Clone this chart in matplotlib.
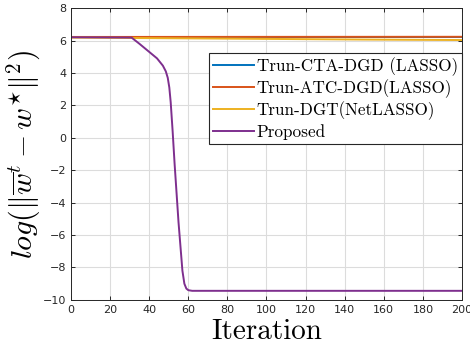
import numpy as np
import matplotlib.pyplot as plt

plt.rcParams['mathtext.fontset'] = 'cm'

# data
labels = ['Trun-CTA-DGD (LASSO)', 'Trun-ATC-DGD(LASSO)', 'Trun-DGT(NetLASSO)', 'Proposed']
colors = ['#0072BD', '#D95319', '#EDB120', '#7E2F8E']

cta_it = [0, 200]
cta_val = [6.22, 6.22]
atc_it = [0, 200]
atc_val = [6.22, 6.23]
dgt_it = [0, 50, 100, 150, 200]
dgt_val = [6.18, 6.14, 6.10, 6.06, 6.03]
prop_it = [0, 31, 35, 40, 44, 47, 48.5, 49.5, 50.3, 51, 52, 53, 55, 57, 58, 59, 60, 62, 200]
prop_val = [6.2, 6.18, 5.8, 5.3, 4.9, 4.45, 4.1, 3.7, 3.1, 2.2, 0.4, -1.6, -5.2, -8.2, -9.0, -9.3, -9.4, -9.44, -9.44]

fig = plt.figure(figsize=(4.7, 3.52), dpi=100)
ax = fig.add_axes([0.151, 0.148, 0.832, 0.829])

series = [(cta_it, cta_val), (atc_it, atc_val), (dgt_it, dgt_val), (prop_it, prop_val)]
for (it, val), lab, c in zip(series, labels, colors):
    ax.plot(it, val, color=c, lw=1.4, label=lab)

ax.set_xlim(0, 200)
ax.set_ylim(-10, 8)
ax.set_xticks(np.arange(0, 201, 20))
ax.set_yticks(np.arange(-10, 9, 2))
ax.grid(True, color='#dcdcdc', lw=0.8)
ax.set_axisbelow(True)
ax.tick_params(direction='in', top=True, right=True, labelsize=8, colors='#262626', length=3, width=0.7)
for s in ax.spines.values():
    s.set_color('#262626')
    s.set_linewidth(0.7)

ax.set_xlabel('Iteration', fontfamily='cmr10', fontsize=21, labelpad=3)
ax.set_ylabel(r'$log(\|\overline{w}^t - w^{\star}\|^2)$', fontsize=21.5, labelpad=0)

leg = ax.legend(loc='upper right', bbox_to_anchor=(1.0, 0.846), prop={'family': 'cmr10', 'size': 12.3},
                frameon=True, fancybox=False, edgecolor='#262626', framealpha=1,
                handlelength=2.4, handletextpad=0.15, labelspacing=0.2, borderpad=0.25, borderaxespad=0)
leg.get_frame().set_linewidth(0.8)

fig.savefig('out.png', dpi=100)
